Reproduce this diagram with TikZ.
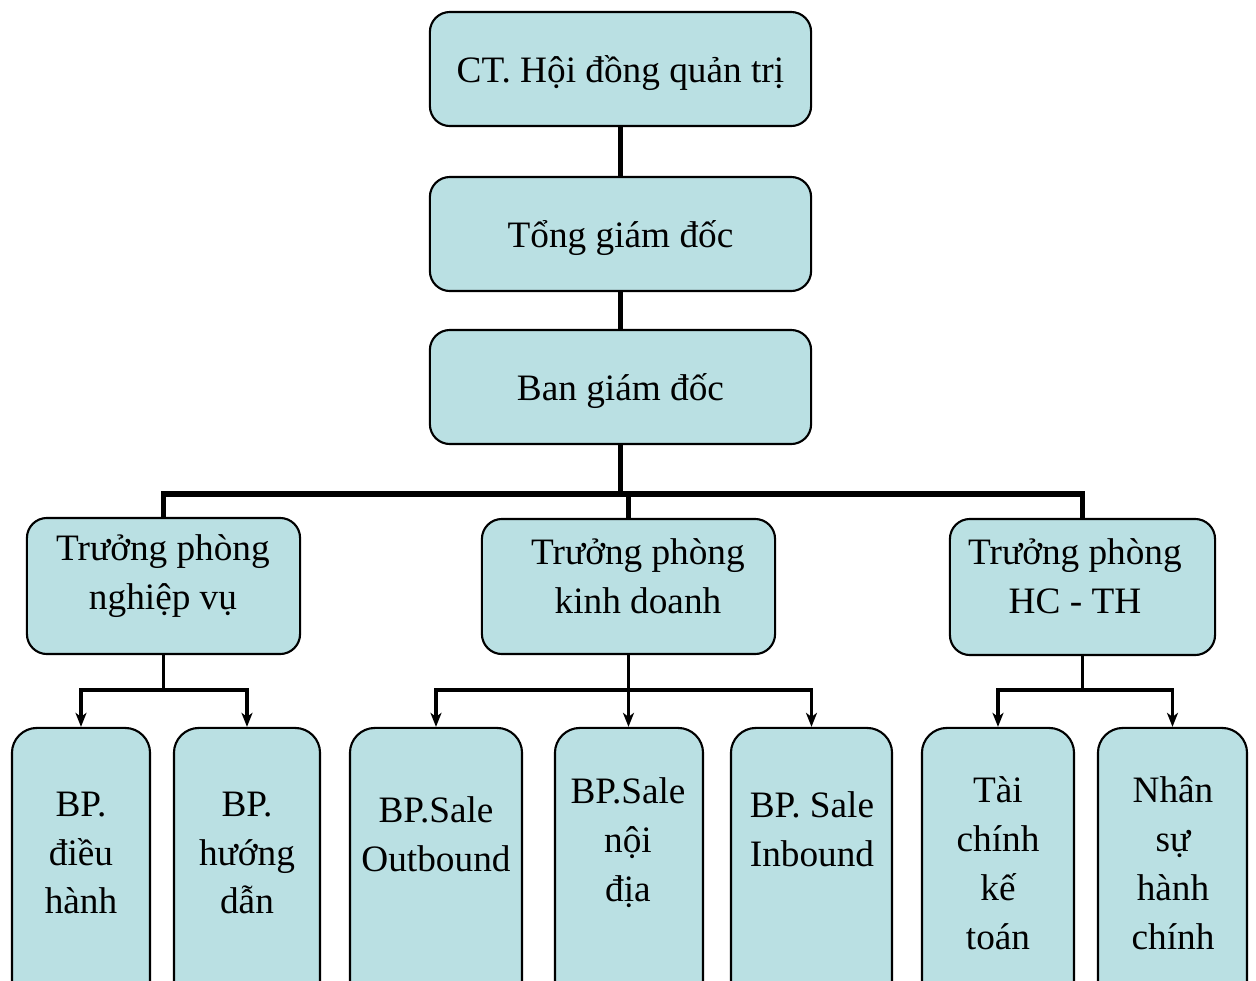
\documentclass[tikz,border=0pt]{standalone}
\usepackage{fontspec}
\setmainfont{Liberation Serif}
\usetikzlibrary{arrows.meta}
\definecolor{boxfill}{HTML}{BAE0E3}
\begin{document}
\begin{tikzpicture}[x=0.01cm, y=-0.01cm,
  box/.style={draw, line width=0.6pt, fill=boxfill, rounded corners=0.2cm, inner sep=0pt},
  tbox/.style={box, txt, text depth=0pt, minimum width=3.81cm, minimum height=1.14cm},
  lbox/.style={box, rounded corners=0.25cm, minimum height=2.82cm},
  txt/.style={align=center, inner sep=0pt, font=\fontsize{10.6}{13.9}\selectfont},
  bus/.style={line width=1.7pt},
  conn/.style={line width=0.9pt},
  arr/.style={conn, -{Stealth[length=0.14cm, width=0.11cm, inset=0.04cm]}}]
\useasboundingbox (0,0) rectangle (1256,981);
\clip (0,0) rectangle (1256,981);
% top levels
\node[tbox] (ct) at (620.5,69) {CT. Hội đồng quản trị};
\node[tbox] (tgd) at (620.5,234) {Tổng giám đốc};
\node[tbox] (bgd) at (620.5,387) {Ban giám đốc};
\draw[bus] (ct) -- (tgd);
\draw[bus] (tgd) -- (bgd);
% truong phong
\node[box, minimum width=2.73cm, minimum height=1.36cm] (tpnv) at (163.5,586) {};
\node[txt] (tpnv-t) at (163,576) {Trưởng phòng\\nghiệp vụ};
\node[box, minimum width=2.93cm, minimum height=1.35cm] (tpkd) at (628.5,586.5) {};
\node[txt] (tpkd-t) at (638,576) {Trưởng phòng\\kinh doanh};
\node[box, minimum width=2.65cm, minimum height=1.36cm] (tphc) at (1082.5,587) {};
\node[txt] (tphc-t) at (1075,576) {Trưởng phòng\\HC - TH};
\coordinate (j1) at (620.5,494);
\draw[bus] (bgd) -- (j1);
\draw[bus] (tpnv.north) |- (j1) -| (tphc.north);
\draw[bus] (j1) -| (tpkd.north);
% bo phan
\node[lbox, minimum width=1.38cm] (bpdh) at (81,869) {};
\node[txt] (bpdh-t) at (81,853) {BP.\\điều\\hành};
\node[lbox, minimum width=1.46cm] (bphd) at (247,869) {};
\node[txt] (bphd-t) at (247,853) {BP.\\hướng\\dẫn};
\node[lbox, minimum width=1.72cm] (bpso) at (436,869) {};
\node[txt] (bpso-t) at (436,834) {BP.Sale\\Outbound};
\node[lbox, minimum width=1.48cm] (bpsn) at (629,869) {};
\node[txt] (bpsn-t) at (628,843) {BP.Sale\\nội\\địa};
\node[lbox, minimum width=1.61cm] (bpsi) at (811.5,869) {};
\node[txt] (bpsi-t) at (812,829) {BP. Sale\\Inbound};
\node[lbox, minimum width=1.52cm] (tckt) at (998,869) {};
\node[txt] (tckt-t) at (998,863) {Tài\\chính\\kế\\toán};
\node[lbox, minimum width=1.49cm] (nshc) at (1172.5,869) {};
\node[txt] (nshc-t) at (1173,863) {Nhân\\sự\\hành\\chính};
% arrows
\coordinate (j2) at (163.5,690);
\draw[conn] (tpnv) -- (j2);
\draw[arr] (j2) -| (bpdh.north);
\draw[arr] (j2) -| (bphd.north);
\coordinate (j3) at (628.5,690);
\draw[conn] (tpkd) -- (j3);
\draw[arr] (j3) -| (bpso.north);
\draw[arr] (j3) -- (j3 |- bpsn.north);
\draw[arr] (j3) -| (bpsi.north);
\coordinate (j4) at (1082.5,690);
\draw[conn] (tphc) -- (j4);
\draw[arr] (j4) -| (tckt.north);
\draw[arr] (j4) -| (nshc.north);
\end{tikzpicture}
\end{document}
